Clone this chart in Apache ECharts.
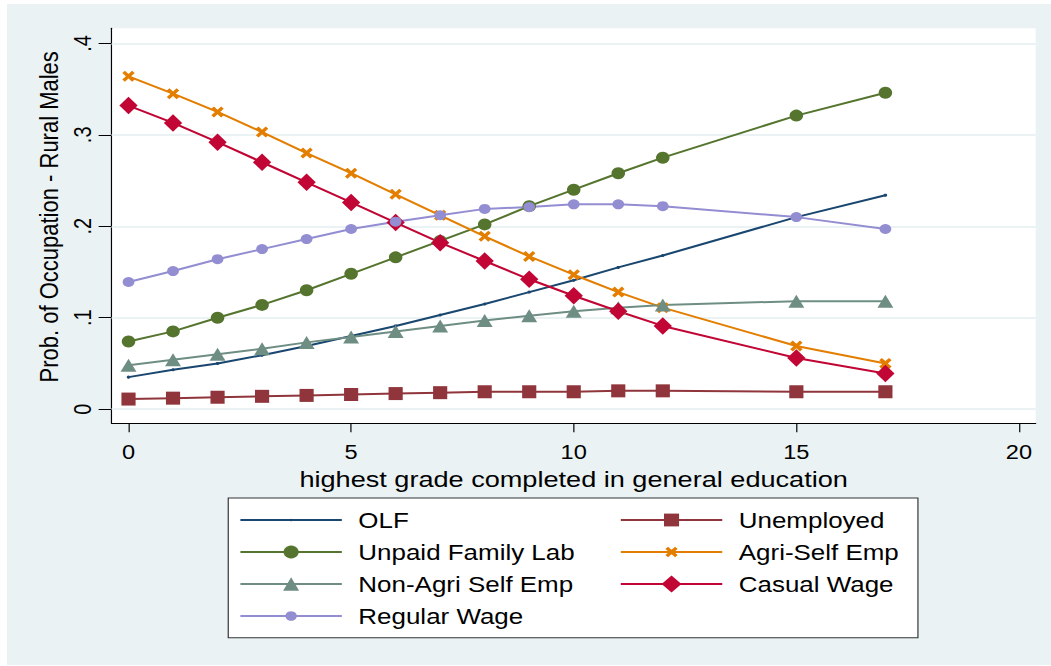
<!DOCTYPE html>
<html>
<head>
<meta charset="utf-8">
<title>Prob. of Occupation - Rural Males</title>
<script src="https://cdn.jsdelivr.net/npm/echarts@6.0.0/dist/echarts.min.js"></script>
<style>
  html, body { margin: 0; padding: 0; background: #ffffff; overflow: hidden; }
  #bg { position: absolute; left: 7px; top: 4px; width: 1044px; height: 661px; background: #EAF2F3; }
  /* the chart is laid out at a narrower width and widened on screen */
  #chart { position: absolute; left: 0; top: 0; width: 891px; height: 666px; transform: scaleX(1.17957); transform-origin: 0 0; }
</style>
</head>
<body>
<div id="bg"></div>
<div id="chart"></div>
<script>
// highest grade completed (x)
const grades = [0, 1, 2, 3, 4, 5, 6, 7, 8, 9, 10, 11, 12, 15, 17];

// predicted probability of each occupation, rural males
const olf        = [0.035, 0.043, 0.050, 0.059, 0.069, 0.080, 0.091, 0.103, 0.115, 0.128, 0.141, 0.155, 0.168, 0.210, 0.234];
const unemployed = [0.011, 0.012, 0.013, 0.014, 0.015, 0.016, 0.017, 0.018, 0.019, 0.019, 0.019, 0.020, 0.020, 0.019, 0.019];
const unpaidFam  = [0.074, 0.085, 0.100, 0.114, 0.130, 0.148, 0.166, 0.184, 0.202, 0.222, 0.240, 0.258, 0.275, 0.321, 0.346];
const agriSelf   = [0.364, 0.345, 0.325, 0.303, 0.280, 0.258, 0.235, 0.212, 0.189, 0.167, 0.147, 0.128, 0.111, 0.069, 0.050];
const nonAgri    = [0.048, 0.054, 0.060, 0.066, 0.073, 0.079, 0.085, 0.091, 0.097, 0.102, 0.107, 0.111, 0.114, 0.118, 0.118];
const casualWage = [0.332, 0.313, 0.292, 0.270, 0.248, 0.226, 0.204, 0.182, 0.162, 0.142, 0.124, 0.107, 0.091, 0.056, 0.039];
const regWage    = [0.139, 0.151, 0.164, 0.175, 0.186, 0.197, 0.205, 0.212, 0.219, 0.221, 0.224, 0.224, 0.222, 0.210, 0.197];

// tick labels
const xTicks = [0, 5, 10, 15, 20];
const yTicks = [0, 0.1, 0.2, 0.3, 0.4];

const FONT = "'Liberation Sans', Arial, Helvetica, sans-serif";
// filled "x" marker
const CROSS = 'path://M0,2.5L2.5,0L6,3.5L9.5,0L12,2.5L8.5,6L12,9.5L9.5,12L6,8.5L2.5,12L0,9.5L3.5,6Z';

const seriesDefs = [
  { name: 'OLF',                values: olf,        color: '#1A476F', symbol: 'circle',   size: 3,           legendH: 3 },
  { name: 'Unemployed',         values: unemployed, color: '#90353B', symbol: 'rect',     size: [12, 13],    legendH: 16 },
  { name: 'Unpaid Family Lab',  values: unpaidFam,  color: '#55752F', symbol: 'circle',   size: [11.5, 12],  legendH: 16 },
  { name: 'Agri-Self Emp',      values: agriSelf,   color: '#E37E00', symbol: CROSS,      size: [10.5, 11],  legendH: 13 },
  { name: 'Non-Agri Self Emp',  values: nonAgri,    color: '#6E8E84', symbol: 'triangle', size: [13.5, 13],  legendH: 17 },
  { name: 'Casual Wage',        values: casualWage, color: '#C10534', symbol: 'diamond',  size: [15.5, 17.5],legendH: 21 },
  { name: 'Regular Wage',       values: regWage,    color: '#938DD2', symbol: 'circle',   size: [10, 10],    legendH: 12 }
];

// legend slots: [column, row] in a two-column key
const legendSlots = {
  'OLF': [0, 0], 'Unemployed': [1, 0],
  'Unpaid Family Lab': [0, 1], 'Agri-Self Emp': [1, 1],
  'Non-Agri Self Emp': [0, 2], 'Casual Wage': [1, 2],
  'Regular Wage': [0, 3]
};
const legendColX = [202.8, 525.3];
const legendRowY = [520, 552, 584, 616];

const series = seriesDefs.map((d, i) => {
  const s = {
    name: d.name,
    type: 'line',
    data: grades.map((g, k) => [g, d.values[k]]),
    symbol: d.symbol,
    symbolSize: d.size,
    showAllSymbol: true,
    lineStyle: { color: d.color, width: 2 },
    itemStyle: { color: d.color, opacity: 1 },
    emphasis: { disabled: true },
    animation: false
  };
  if (i === 0) {
    // light horizontal grid at the y ticks
    s.markLine = {
      silent: true,
      z: 1,
      symbol: ['none', 'none'],
      label: { show: false },
      lineStyle: { color: '#EAF2F3', width: 2, type: 'solid' },
      emphasis: { disabled: true },
      animation: false,
      data: yTicks.map(v => ({ yAxis: v }))
    };
  }
  return s;
});

const legends = seriesDefs.map(d => {
  const [col, row] = legendSlots[d.name];
  return {
    data: [d.name],
    left: legendColX[col],
    top: legendRowY[row] - 12,
    padding: 0,
    itemWidth: 86,
    itemHeight: d.legendH,
    selectedMode: false,
    textStyle: { fontFamily: FONT, fontSize: 22, color: '#000', lineHeight: 24, padding: [0, 0, 0, 9] }
  };
});

const chart = echarts.init(document.getElementById('chart'), null, { renderer: 'svg' });
chart.setOption({
  backgroundColor: 'transparent',
  animation: false,
  grid: {
    left: 94.6, right: 13, top: 28.3, bottom: 242.7,
    show: true, backgroundColor: '#ffffff', borderWidth: 0
  },
  xAxis: {
    type: 'value',
    min: -0.38, max: 20.375,
    name: 'highest grade completed in general education',
    nameLocation: 'middle',
    nameGap: 37,
    nameTextStyle: { fontFamily: FONT, fontSize: 23, color: '#000' },
    axisLine: { show: true, onZero: false, lineStyle: { color: '#000', width: 1 } },
    axisTick: { show: true, length: 9, customValues: xTicks, lineStyle: { color: '#000', width: 1 } },
    axisLabel: { customValues: xTicks, fontFamily: FONT, fontSize: 20, color: '#000', margin: 19 },
    splitLine: { show: false }
  },
  yAxis: {
    type: 'value',
    min: -0.0155, max: 0.4165,
    name: 'Prob. of Occupation - Rural Males',
    nameLocation: 'middle',
    nameGap: 39,
    nameTextStyle: { fontFamily: FONT, fontSize: 22, color: '#000', padding: [0, 0, 0, 18] },
    axisLine: { show: true, onZero: false, lineStyle: { color: '#000', width: 1 } },
    axisTick: { show: true, length: 11, customValues: yTicks, lineStyle: { color: '#000', width: 1 } },
    axisLabel: {
      customValues: yTicks, rotate: 90, fontFamily: FONT, fontSize: 20, color: '#000', margin: 14,
      formatter: v => (v === 0 ? '0' : String(v).replace(/^0/, ''))
    },
    splitLine: { show: false }
  },
  legend: legends,
  graphic: [{
    type: 'rect',
    z: -1,
    silent: true,
    shape: { x: 193.5, y: 498, width: 584.7, height: 139.7 },
    style: { fill: '#ffffff', stroke: '#333333', lineWidth: 1 }
  }],
  series: series
});
</script>
</body>
</html>
